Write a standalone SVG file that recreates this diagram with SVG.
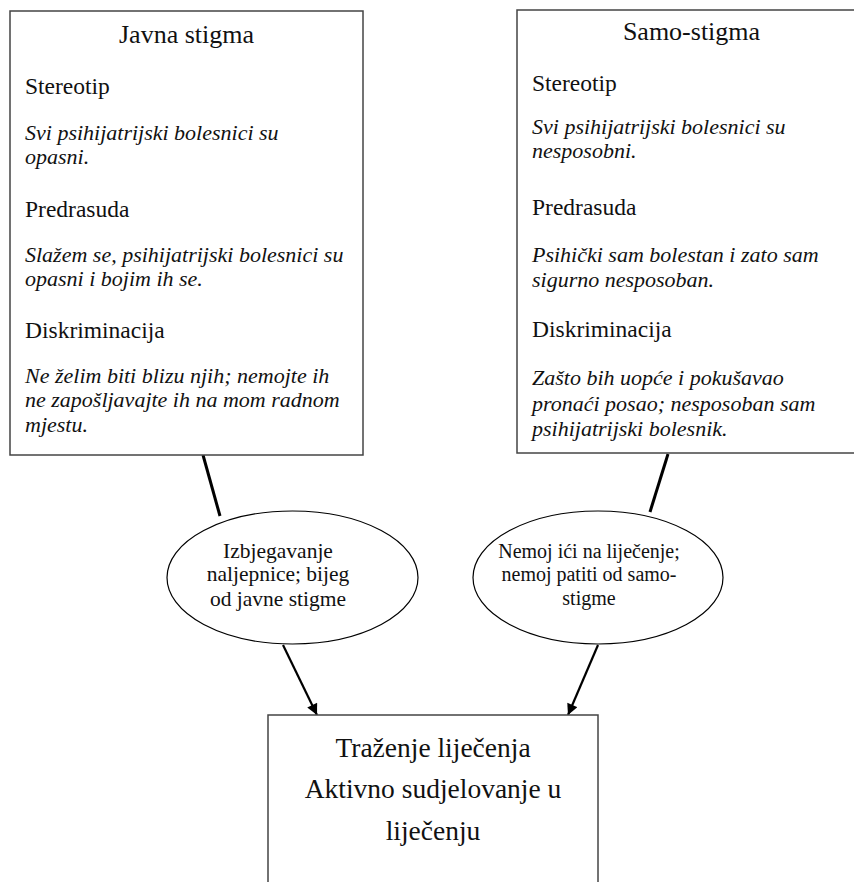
<svg xmlns="http://www.w3.org/2000/svg" width="854" height="882" viewBox="0 0 854 882">
<defs>
<marker id="ah" viewBox="0 0 10 10" refX="10" refY="5" markerWidth="5.5" markerHeight="5" markerUnits="strokeWidth" orient="auto">
<path d="M0,0 L10,5 L0,10 z" fill="#000"/>
</marker>
<style>
.box{fill:#fff;stroke:#444;stroke-width:1.5}
.ell{fill:#fff;stroke:#000;stroke-width:1.2}
.t{font-family:"Liberation Serif","Times New Roman",serif;font-size:23.5px;fill:#111}
.i{font-style:italic;font-size:22px}
.h{font-size:26px;text-anchor:middle}
.e{font-family:"Liberation Serif","Times New Roman",serif;font-size:21.5px;fill:#111;text-anchor:middle}
.s{font-size:20px}
.b{font-family:"Liberation Serif","Times New Roman",serif;font-size:27.5px;fill:#111;text-anchor:middle}
.ln{stroke:#000;stroke-width:3;fill:none}
.ar{stroke:#000;stroke-width:2.2;fill:none;marker-end:url(#ah)}
</style>
</defs>
<rect width="854" height="882" fill="#fff"/>
<g id="connectors">
<line class="ln" x1="203" y1="455" x2="220" y2="516"/>
<line class="ln" x1="668" y1="454" x2="650" y2="512"/>
<line class="ar" x1="283" y1="645" x2="317" y2="715"/>
<line class="ar" x1="598" y1="645" x2="568" y2="715"/>
</g>
<g id="javna-stigma">
<rect class="box" x="10" y="11" width="353" height="444"/>
<text class="t h" x="186.5" y="43">Javna stigma</text>
<text class="t" x="25" y="94">Stereotip</text>
<text class="t i" x="25" y="140">Svi psihijatrijski bolesnici su</text>
<text class="t i" x="25" y="164">opasni.</text>
<text class="t" x="25" y="217">Predrasuda</text>
<text class="t i" x="25" y="262">Slažem se, psihijatrijski bolesnici su</text>
<text class="t i" x="25" y="286">opasni i bojim ih se.</text>
<text class="t" x="25" y="338">Diskriminacija</text>
<text class="t i" x="25" y="383">Ne želim biti blizu njih; nemojte ih</text>
<text class="t i" x="25" y="407">ne zapošljavajte ih na mom radnom</text>
<text class="t i" x="25" y="432">mjestu.</text>
</g>
<g id="samo-stigma">
<rect class="box" x="517" y="10" width="349" height="443"/>
<text class="t h" x="691.5" y="40">Samo-stigma</text>
<text class="t" x="532" y="91">Stereotip</text>
<text class="t i" x="532" y="134">Svi psihijatrijski bolesnici su</text>
<text class="t i" x="532" y="158">nesposobni.</text>
<text class="t" x="532" y="215">Predrasuda</text>
<text class="t i" x="532" y="262">Psihički sam bolestan i zato sam</text>
<text class="t i" x="532" y="287">sigurno nesposoban.</text>
<text class="t" x="532" y="337">Diskriminacija</text>
<text class="t i" x="532" y="385">Zašto bih uopće i pokušavao</text>
<text class="t i" x="532" y="411">pronaći posao; nesposoban sam</text>
<text class="t i" x="532" y="436">psihijatrijski bolesnik.</text>
</g>
<g id="izbjegavanje">
<ellipse class="ell" cx="292.5" cy="577.5" rx="125.5" ry="66.5"/>
<text class="e" x="278" y="558">Izbjegavanje</text>
<text class="e" x="278" y="581">naljepnice; bijeg</text>
<text class="e" x="278" y="606">od javne stigme</text>
</g>
<g id="nemoj">
<ellipse class="ell" cx="598" cy="577.5" rx="125" ry="66.5"/>
<text class="e s" x="589" y="558">Nemoj ići na liječenje;</text>
<text class="e s" x="589" y="581">nemoj patiti od samo-</text>
<text class="e s" x="589" y="605">stigme</text>
</g>
<g id="trazenje">
<rect class="box" x="268" y="715" width="330" height="180"/>
<text class="b" x="433" y="757">Traženje liječenja</text>
<text class="b" x="433" y="798">Aktivno sudjelovanje u</text>
<text class="b" x="433" y="840">liječenju</text>
</g>
</svg>
